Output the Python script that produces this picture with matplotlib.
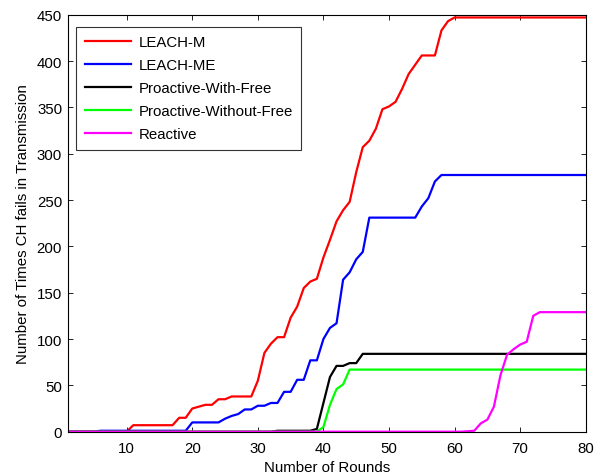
import matplotlib.pyplot as plt

plt.rcParams['font.family'] = ['Liberation Sans', 'DejaVu Sans']

# Rounds on the x axis
rounds = list(range(1, 81))

# Number of times CH fails in transmission, per protocol
leach_m = [0] * 10 + [7] * 7 + [15, 15, 25, 27, 29, 29, 35, 35, 38, 38, 38, 38] + \
    [55, 85, 95, 102, 102, 123, 135, 155, 162, 165,
     188, 207, 227, 239, 248, 280, 307, 314, 327, 348,
     351, 356, 370, 386, 396, 406, 406, 406, 433, 443, 447] + [447] * 20
leach_me = [0] * 5 + [1] * 14 + [10] * 5 + [14, 17, 19, 24, 24, 28, 28, 31, 31, 43, 43, 56, 56, 77, 77] + \
    [100, 112, 117, 164, 172, 186, 194] + [231] * 8 + [243, 252, 270] + [277] * 23
proactive_with = [0] * 32 + [1] * 6 + [3, 31, 59, 71, 71, 74, 74] + [84] * 35
proactive_without = [0] * 39 + [5, 29, 46, 51] + [67] * 37
reactive = [0] * 61 + [0.5, 1, 9, 13, 27, 61, 83, 89, 94, 97, 125] + [129] * 8

series = [
    ("LEACH-M", leach_m, "#ff0000"),
    ("LEACH-ME", leach_me, "#0000ff"),
    ("Proactive-With-Free", proactive_with, "#000000"),
    ("Proactive-Without-Free", proactive_without, "#00ff00"),
    ("Reactive", reactive, "#ff00ff"),
]

fs = 10.8

fig = plt.figure(figsize=(6.0, 4.77), dpi=100)
ax = fig.add_axes([0.1128, 0.0929, 0.8634, 0.8742])

for label, values, color in series:
    ax.plot(rounds, values, color=color, linewidth=1.6, label=label)

ax.set_xlim(1, 80)
ax.set_ylim(0, 450)
ax.set_xticks(range(10, 81, 10))
ax.set_yticks(range(0, 451, 50))
ax.tick_params(direction='in', top=True, right=True, length=3.5, width=0.6,
               labelsize=fs, pad=4)
ax.tick_params(axis='x', pad=7)
for spine in ax.spines.values():
    spine.set_linewidth(0.8)

ax.set_xlabel("Number of Rounds", fontsize=fs, labelpad=3)
ax.set_ylabel("Number of Times CH fails in Transmission", fontsize=fs, labelpad=5)

leg = ax.legend(loc='upper left', bbox_to_anchor=(0.017, 0.970), borderaxespad=0,
                fancybox=False, edgecolor='black', fontsize=fs,
                handlelength=3.1, handletextpad=0.5, labelspacing=0.6,
                borderpad=0.55)
leg.get_frame().set_linewidth(0.8)

plt.savefig("out.png", dpi=100)
plt.close()
